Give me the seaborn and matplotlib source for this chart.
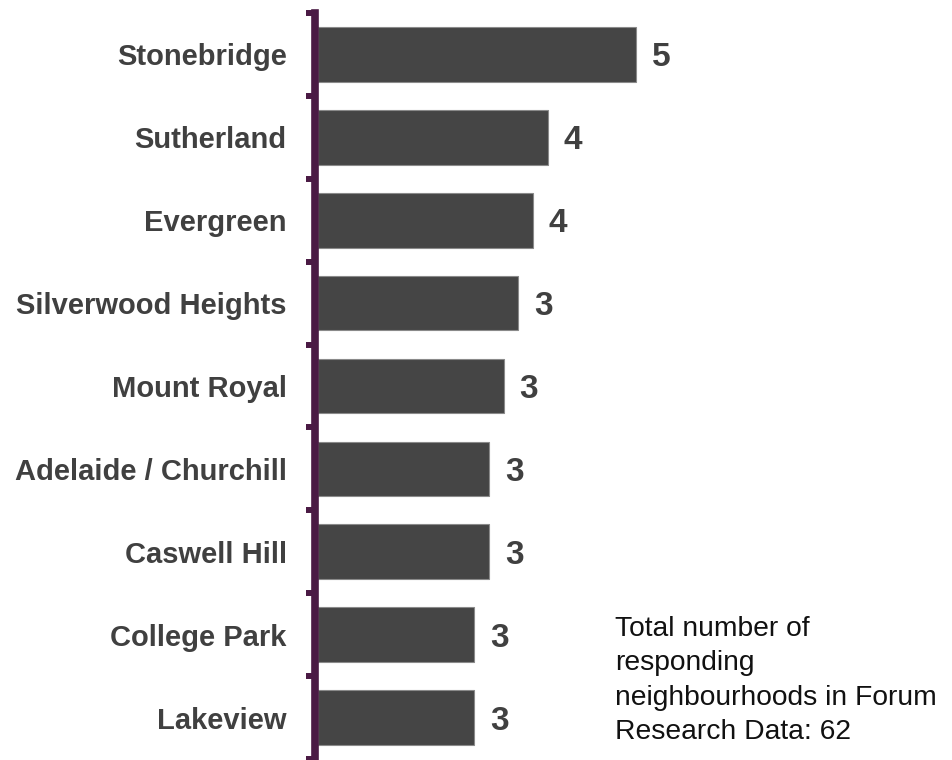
import matplotlib
matplotlib.use("Agg")
import matplotlib.pyplot as plt
import seaborn as sns
import pandas as pd
import numpy as np

neighbourhoods = [
    "Stonebridge", "Sutherland", "Evergreen", "Silverwood Heights",
    "Mount Royal", "Adelaide / Churchill", "Caswell Hill",
    "College Park", "Lakeview",
]
values = [5.4, 3.9, 3.65, 3.4, 3.15, 2.9, 2.9, 2.65, 2.65]
note = "Total number of\nresponding\nneighbourhoods in Forum\nResearch Data: 62"

sns.set_theme(style="white")
plt.rcParams["font.family"] = ["Liberation Sans", "DejaVu Sans"]

df = pd.DataFrame({"name": neighbourhoods, "value": values})

W, H, DPI = 952, 760, 100
fig = plt.figure(figsize=(W / DPI, H / DPI), dpi=DPI)
left_px, top_px, bottom_px = 318, 13, 759
ax = fig.add_axes([left_px / W, 1 - bottom_px / H, 1 - left_px / W, (bottom_px - top_px) / H])

bar_color = "#454545"
text_color = "#404040"
sns.barplot(data=df, y="name", x="value", orient="h", color=bar_color,
            width=0.66, edgecolor="#8a8a8a", linewidth=0.8, ax=ax)

px_per_unit = 318 / 5.4
ax.set_xlim(0, (W - left_px) / px_per_unit)
ax.set_ylim(len(values) - 0.5, -0.5)

for i, v in enumerate(values):
    ax.annotate(f"{v:.0f}", xy=(v, i), xytext=(11.5, -2.5), textcoords="offset points",
                ha="left", va="center", fontsize=24, fontweight="bold", color=text_color)

for s in ["top", "right", "bottom"]:
    ax.spines[s].set_visible(False)
ax.spines["left"].set_color("#4a1a44")
ax.spines["left"].set_linewidth(5.5)
ax.spines["left"].set_position(("outward", 2.5))

ax.set_xticks([])
ax.set_xlabel("")
ax.set_ylabel("")
ax.tick_params(axis="y", which="major", length=0, pad=20, labelsize=21,
               labelcolor=text_color)
for lab in ax.get_yticklabels():
    lab.set_fontweight("bold")
ax.set_yticks(np.arange(-0.5, len(values) + 0.5, 1.0), minor=True)
ax.tick_params(axis="y", which="minor", left=True, length=6.8, width=4.3,
               color="#4a1a44", direction="out")

fig.text(615 / W, 1 - 616 / H, note, ha="left", va="top", fontsize=20.3,
         color="#111111", linespacing=1.42)

fig.savefig("out.png", dpi=DPI)
